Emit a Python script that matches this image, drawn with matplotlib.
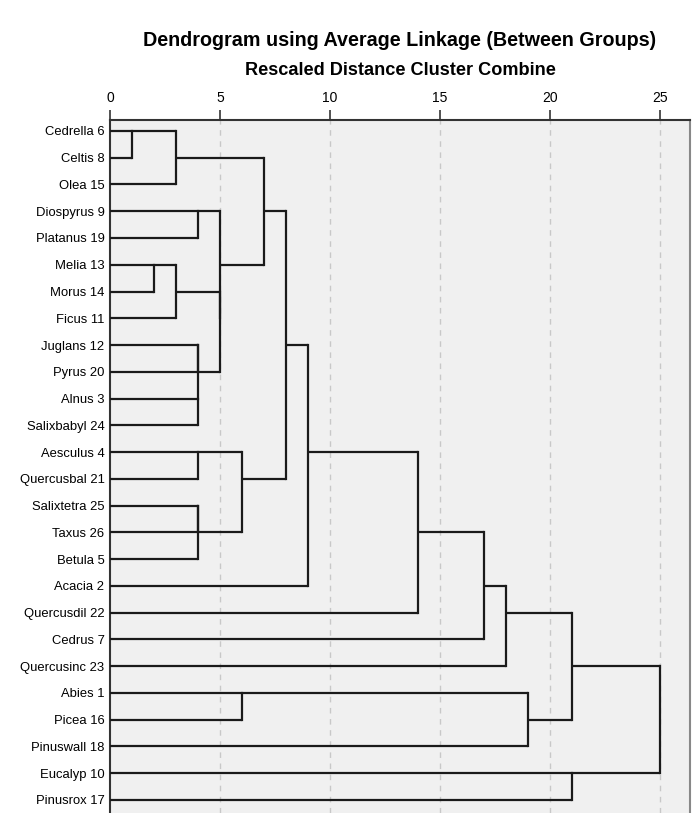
import matplotlib
matplotlib.use('Agg')
import matplotlib.pyplot as plt

plt.rcParams['font.family'] = ['Liberation Sans', 'DejaVu Sans']

# leaf labels in display order (top to bottom)
leaves = ['Cedrella 6', 'Celtis 8', 'Olea 15', 'Diospyrus 9', 'Platanus 19',
          'Melia 13', 'Morus 14', 'Ficus 11', 'Juglans 12', 'Pyrus 20',
          'Alnus 3', 'Salixbabyl 24', 'Aesculus 4', 'Quercusbal 21',
          'Salixtetra 25', 'Taxus 26', 'Betula 5', 'Acacia 2', 'Quercusdil 22',
          'Cedrus 7', 'Quercusinc 23', 'Abies 1', 'Picea 16', 'Pinuswall 18',
          'Eucalyp 10', 'Pinusrox 17']
n = len(leaves)

# merges (child a, child b, rescaled distance); index >= n means merge number (index - n)
merge_a = [0, 26, 3, 5, 29, 8, 10, 31, 30, 28, 27, 12, 14, 38, 37, 36, 41, 42, 43, 44, 21, 46, 45, 24, 48]
merge_b = [1, 2, 4, 6, 7, 9, 11, 32, 33, 34, 35, 13, 15, 16, 39, 40, 17, 18, 19, 20, 22, 23, 47, 25, 49]
merge_h = [1, 3, 4, 2, 3, 4, 4, 4, 5, 5, 7, 4, 4, 4, 6, 8, 9, 14, 17, 18, 6, 19, 21, 21, 25]
ticks = [0, 5, 10, 15, 20, 25]

fig = plt.figure(figsize=(6.99, 8.13), dpi=100)
ax = fig.add_axes([110 / 699, 0, 580 / 699, 1 - 120 / 813])
ax.set_facecolor('#f0f0f0')

pos = {i: i for i in range(n)}
height = {i: 0 for i in range(n)}
lc = '#1a1a1a'
for k, (a, b, h) in enumerate(zip(merge_a, merge_b, merge_h)):
    for c in (a, b):
        ax.plot([height[c], h], [pos[c], pos[c]], color=lc, lw=1.6, solid_capstyle='butt', zorder=3)
    ax.plot([h, h], [pos[a], pos[b]], color=lc, lw=1.6, solid_capstyle='projecting', zorder=3)
    pos[n + k] = (pos[a] + pos[b]) // 2  # SPSS puts the joined branch on the integer middle row
    height[n + k] = h

for g in ticks[1:]:
    ax.axvline(g, color='#c8c8c8', lw=1, ls=(0, (4, 4)), zorder=1)

ax.set_xlim(0, 580 / 22)
ax.set_ylim(25.49, -0.41)
ax.set_yticks(range(n))
ax.set_yticklabels(leaves, fontsize=9.4)
ax.tick_params(axis='y', length=0, pad=4)
ax.xaxis.tick_top()
ax.set_xticks(ticks)
ax.tick_params(axis='x', length=7, width=1.2, color='#333333', labelsize=10, pad=3.5, direction='out')
ax.xaxis.set_label_position('top')
ax.set_xlabel('Rescaled Distance Cluster Combine', fontsize=13.1, fontweight='bold', labelpad=12)

for s in ['left', 'top']:
    ax.spines[s].set_color('#333333')
    ax.spines[s].set_linewidth(1.5)
ax.spines['right'].set_color('#888888')
ax.spines['right'].set_linewidth(1.5)
ax.spines['bottom'].set_visible(False)

fig.text(400 / 699, 1 - 41 / 813, 'Dendrogram using Average Linkage (Between Groups)',
         ha='center', va='center', fontsize=14.2, fontweight='bold')

fig.savefig('out.png', dpi=100)
